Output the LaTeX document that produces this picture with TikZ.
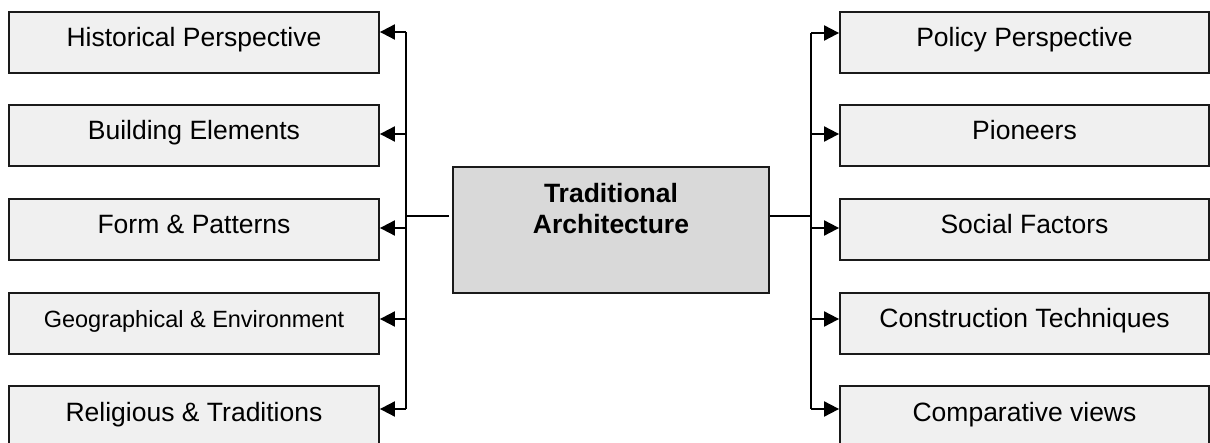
\documentclass[tikz,border=0pt]{standalone}
\usepackage{fontspec}
\setmainfont{Liberation Sans}
\usetikzlibrary{arrows.meta}
\definecolor{boxfill}{HTML}{F0F0F0}
\definecolor{mainfill}{HTML}{D9D9D9}
\definecolor{edge}{HTML}{1A1A1A}
\tikzset{
  leaf/.style={draw=edge, line width=1.8pt, fill=boxfill, minimum width=370pt, minimum height=61pt,
    inner xsep=0pt, inner ysep=0pt, text height=19pt, text depth=10pt,
    font=\fontsize{26.5}{31}\selectfont},
  mainbox/.style={draw=edge, line width=1.8pt, fill=mainfill, minimum width=316pt, minimum height=126pt,
    inner sep=0pt},
  maintext/.style={anchor=north, align=center, inner sep=0pt, yshift=-17pt,
    font=\fontsize{26.5}{31}\selectfont\bfseries},
  link/.style={draw=black, line width=1.9pt},
  arrowlink/.style={link, -{Triangle[length=15pt 0,width=15pt 0]}}
}
\begin{document}
\begin{tikzpicture}[x=1pt,y=-1pt]
\useasboundingbox (0,0) rectangle (1210,443);
\clip (0,0) rectangle (1210,443);
% central box
\node[mainbox, label={[maintext]north:Traditional\\Architecture}] (c) at (611,230) {};
% left boxes
\node[leaf] (l1) at (194,42.5) {Historical Perspective};
\node[leaf] (l2) at (194,135.5) {Building Elements};
\node[leaf] (l3) at (194,229.5) {Form \& Patterns};
\node[leaf, font=\fontsize{23.5}{28}\selectfont] (l4) at (194,323.5) {Geographical \& Environment};
\node[leaf] (l5) at (194,416.5) {Religious \& Traditions};
% right boxes
\node[leaf, minimum width=369pt] (r1) at (1024.5,42.5) {Policy Perspective};
\node[leaf, minimum width=369pt] (r2) at (1024.5,135.5) {Pioneers};
\node[leaf, minimum width=369pt] (r3) at (1024.5,229.5) {Social Factors};
\node[leaf, minimum width=369pt] (r4) at (1024.5,323.5) {Construction Techniques};
\node[leaf, minimum width=369pt] (r5) at (1024.5,416.5) {Comparative views};
% bus coordinates
\coordinate (lc) at (449,216);
\coordinate (rc) at (c.east |- lc);
\coordinate (lb0) at (406,216);
\coordinate (lb1) at (406,32);
\coordinate (lb2) at (406,134);
\coordinate (lb3) at (406,228);
\coordinate (lb4) at (406,319);
\coordinate (lb5) at (406,409);
\coordinate (rb0) at (811,216);
\coordinate (rb1) at (811,33);
\coordinate (rb2) at (811,134);
\coordinate (rb3) at (811,228);
\coordinate (rb4) at (811,319);
\coordinate (rb5) at (811,409);
% left connectors
\draw[link] (lc) -- (lb0);
\draw[link] (lb1) -- (lb5);
\foreach \i in {1,...,5} {\draw[arrowlink] (lb\i) -- (lb\i -| l\i.east);}
% right connectors
\draw[link] (rc) -- (rb0);
\draw[link] (rb1) -- (rb5);
\foreach \i in {1,...,5} {\draw[arrowlink] (rb\i) -- (rb\i -| r\i.west);}
\end{tikzpicture}
\end{document}
